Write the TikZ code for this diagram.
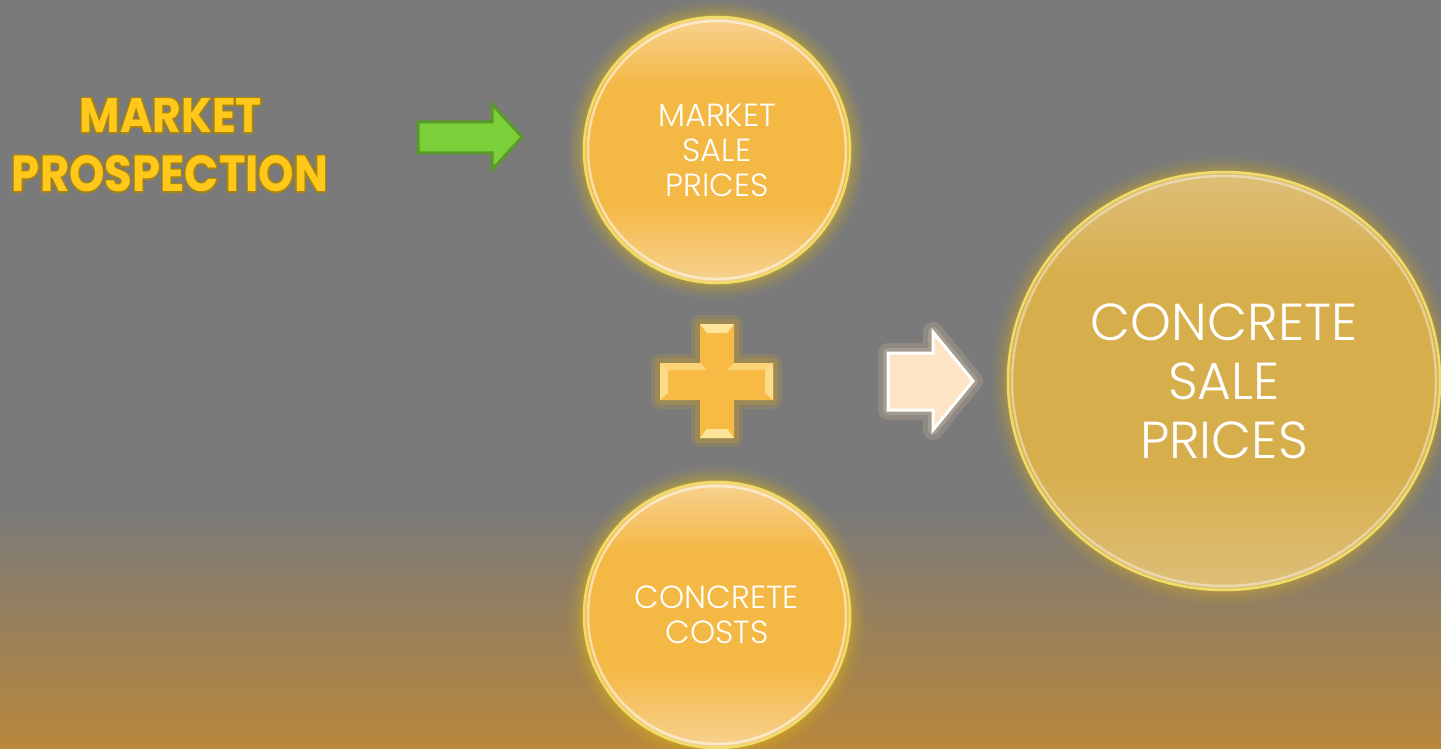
\documentclass[tikz,border=0pt]{standalone}
\usepackage{fontspec}
\setmainfont{Poppins}[UprightFont=* Light, BoldFont=* Bold]
\usepackage{graphicx}
\usetikzlibrary{shapes.geometric}
\definecolor{bggrey}{HTML}{7A7A7A}
\definecolor{bgorange}{HTML}{B8873B}
\definecolor{glowyel}{HTML}{DDB61C}
\definecolor{glowbig}{HTML}{CFAA2A}
\definecolor{orangemid}{HTML}{F4B844}
\definecolor{orangelight}{HTML}{F7D292}
\definecolor{bigmid}{HTML}{D7AE4C}
\definecolor{biglight}{HTML}{DDBF78}
\definecolor{rimcol}{HTML}{F0DC6A}
\definecolor{titlegold}{HTML}{FFC81A}
\definecolor{titledark}{HTML}{A88410}
\definecolor{arrowgreen}{HTML}{7ACF3A}
\definecolor{arrowgreendark}{HTML}{5A9A28}
\definecolor{plusfill}{HTML}{F6BA45}
\definecolor{pluslight}{HTML}{FFE59A}
\definecolor{plusglow}{HTML}{C9A02A}
\definecolor{warrowfill}{HTML}{FDE4C6}
\definecolor{warrowglow}{HTML}{CDBBA0}
\pgfdeclareverticalshading{smallshade}{100bp}{color(0bp)=(orangelight); color(25bp)=(orangelight); color(40bp)=(orangemid); color(62bp)=(orangemid); color(75bp)=(orangelight); color(100bp)=(orangelight)}
\pgfdeclareverticalshading{bigshade}{100bp}{color(0bp)=(biglight); color(25bp)=(biglight); color(40bp)=(bigmid); color(62bp)=(bigmid); color(75bp)=(biglight); color(100bp)=(biglight)}
\tikzset{
  smallcircle/.style={circle, minimum size=266pt, inner sep=0pt, draw=rimcol, line width=2.5pt,
     shading=smallshade, text=white, align=center, font=\fontsize{32}{35}\selectfont},
  bigcircle/.style={ellipse, minimum width=432pt, minimum height=418pt, inner sep=0pt, draw=rimcol, line width=2.5pt,
     shading=bigshade, text=white, align=center, font=\fontsize{52}{59}\selectfont},
  titletext/.style={anchor=base, inner sep=0pt, font=\bfseries},
  plusshape/.style={insert path={(700,324) -- (734,324) -- (734,363) -- (773,363) -- (773,400) -- (734,400) -- (734,438) -- (700,438) -- (700,400) -- (660,400) -- (660,363) -- (700,363) -- cycle}},
  warrowshape/.style={insert path={(888,353) -- (933,353) -- (933,332) -- (973,381) -- (933,430) -- (933,410) -- (888,410) -- cycle}},
  garrowshape/.style={insert path={(418,122) -- (492,122) -- (492,104) -- (522,137) -- (492,170) -- (492,153) -- (418,153) -- cycle}}
}
\begin{document}
\begin{tikzpicture}[x=1pt,y=-1pt]
\useasboundingbox (0,0) rectangle (1441,749);
% background
\fill[bggrey] (0,0) rectangle (1441,506);
\shade[top color=bggrey,bottom color=bgorange] (0,505) rectangle (1441,749);

% glows
\foreach \d/\o in {16/0.05,13/0.07,10/0.09,7/0.12,4/0.16,2/0.2}{
  \fill[glowyel,opacity=\o] (717,150) circle[radius={(133+\d)*1pt}];
  \fill[glowyel,opacity=\o] (717,615) circle[radius={(133+\d)*1pt}];
  \fill[glowbig,opacity=\o] (1224,381) ellipse[x radius={(216+\d)*1pt}, y radius={(209+\d)*1pt}];
}

% circles
\node[smallcircle] (msp) at (717,150) {MARKET\\SALE\\PRICES};
\node[smallcircle] (cc) at (717,615) {CONCRETE\\COSTS};
\node[bigcircle] (csp) at (1224,381) {CONCRETE\\SALE\\PRICES};
\draw[white,opacity=0.55,line width=2.5pt] (717,150) circle[radius=129pt];
\draw[white,opacity=0.55,line width=2.5pt] (717,615) circle[radius=129pt];
\draw[white,opacity=0.4,line width=2.5pt] (1224,381) ellipse[x radius=212pt, y radius=205pt];

% title
\foreach \dx/\dy in {-1.3/0,1.3/0,0/-1.3,0/1.3,-1/-1,1/1,-1/1,1/-1}{
  \node[titletext,text=titledark] at (171+\dx,133+\dy) {\resizebox{182pt}{34pt}{MARKET}};
  \node[titletext,text=titledark] at (170+\dx,192+\dy) {\resizebox{316pt}{36pt}{PROSPECTION}};
}
\node[titletext,text=titlegold] (t1) at (171,133) {\resizebox{182pt}{34pt}{MARKET}};
\node[titletext,text=titlegold] (t2) at (170,192) {\resizebox{316pt}{36pt}{PROSPECTION}};

% green arrow
\filldraw[fill=arrowgreen,draw=arrowgreendark,line width=3pt,line join=miter] [garrowshape];

% plus sign
\draw[plusglow,opacity=0.2,line width=18pt,line join=round] [plusshape];
\draw[plusglow,opacity=0.3,line width=10pt,line join=round] [plusshape];
\fill[plusfill] [plusshape];
\fill[pluslight] (700,324) -- (734,324) -- (727,333) -- (707,333) -- cycle;
\fill[pluslight] (700,438) -- (734,438) -- (727,429) -- (707,429) -- cycle;
\fill[pluslight!80!plusfill] (660,363) -- (660,400) -- (668,393) -- (668,370) -- cycle;
\fill[pluslight!80!plusfill] (773,363) -- (773,400) -- (765,393) -- (765,370) -- cycle;
\fill[pluslight!60!plusfill] (660,363) -- (700,363) -- (707,370) -- (668,370) -- cycle;
\fill[pluslight!60!plusfill] (734,363) -- (773,363) -- (765,370) -- (727,370) -- cycle;

% white arrow
\draw[warrowglow,opacity=0.25,line width=20pt,line join=round] [warrowshape];
\draw[warrowglow,opacity=0.35,line width=10pt,line join=round] [warrowshape];
\filldraw[fill=warrowfill,draw=white,line width=3pt] [warrowshape];
\end{tikzpicture}
\end{document}
